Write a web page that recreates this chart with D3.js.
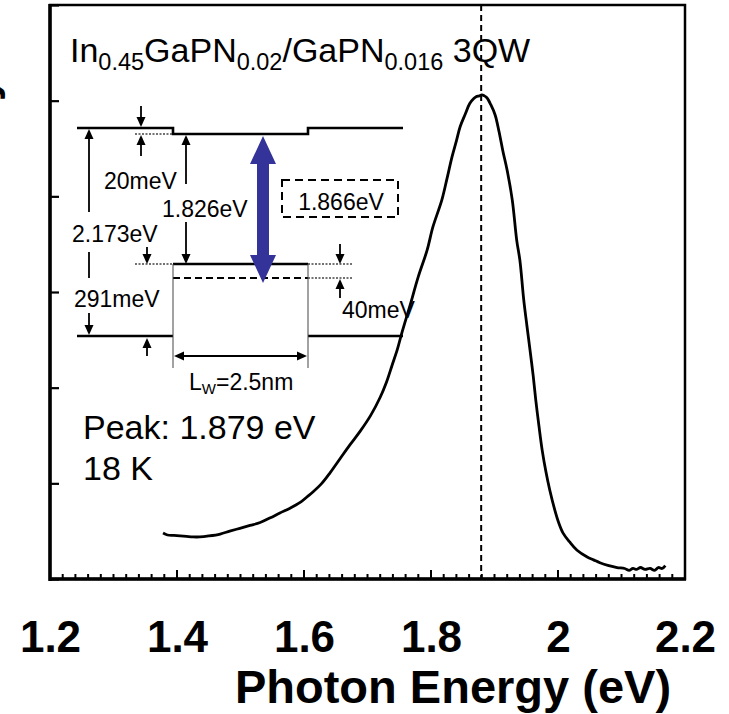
<!DOCTYPE html>
<html>
<head>
<meta charset="utf-8">
<script src="https://cdn.jsdelivr.net/npm/d3@7"></script>
<style>
  html, body { margin: 0; padding: 0; background: #fff; }
  svg { display: block; }
  text { font-family: "Liberation Sans", Arial, sans-serif; fill: #000; }
</style>
</head>
<body>
<svg id="chart" width="729" height="714"></svg>
<script>
// ---- data ----
const energy = [1.378,1.385,1.395,1.405,1.415,1.425,1.436,1.450,1.468,1.483,1.499,1.515,1.531,1.547,1.562,1.578,1.594,1.605,1.614,1.628,1.641,1.657,1.672,1.688,1.705,1.720,1.730,1.739,1.747,1.754,1.767,1.780,1.794,1.803,1.817,1.825,1.833,1.840,1.846,1.854,1.861,1.867,1.871,1.876,1.880,1.884,1.888,1.894,1.901,1.907,1.913,1.920,1.928,1.935,1.940,1.946,1.951,1.956,1.961,1.965,1.970,1.975,1.981,1.987,1.995,2.001,2.008,2.018,2.030,2.046,2.056,2.066,2.080,2.093,2.105,2.112,2.118,2.124,2.130,2.137,2.145,2.152,2.158,2.164,2.169];
const intensity = [0.48,0.46,0.455,0.45,0.445,0.44,0.44,0.45,0.47,0.50,0.53,0.56,0.59,0.64,0.69,0.74,0.80,0.86,0.91,1.00,1.11,1.26,1.40,1.54,1.71,1.90,2.06,2.24,2.40,2.57,2.86,3.16,3.44,3.68,3.96,4.18,4.41,4.58,4.73,4.86,4.97,5.02,5.04,5.05,5.06,5.05,5.03,4.96,4.85,4.68,4.48,4.27,3.96,3.54,3.33,2.92,2.65,2.39,2.12,1.87,1.60,1.35,1.12,0.93,0.72,0.59,0.48,0.39,0.30,0.23,0.20,0.17,0.14,0.12,0.11,0.09,0.11,0.10,0.12,0.10,0.11,0.09,0.12,0.11,0.14];
const xTickValues = [1.2,1.4,1.6,1.8,2.0,2.2];
const xTickLabels = ["1.2","1.4","1.6","1.8","2","2.2"];
const yTickValues = [0,1,2,3,4,5,6];
const peakEnergy = 1.879;

// ---- layout ----
const svg = d3.select("#chart");
const L = 50, T = 5, R = 685, B = 579;
const x = d3.scaleLinear().domain([1.2, 2.2]).range([L, R]);
const y = d3.scaleLinear().domain([0, 6]).range([B, T]);

// partial y-axis label (cropped at the left edge, as in the reference)
svg.append("text")
  .attr("transform", `translate(-4,76) rotate(-90)`)
  .attr("text-anchor", "end")
  .style("font-weight", "bold").style("font-size", "45px")
  .text("PL Intensity");

// frame
svg.append("rect").attr("x", L).attr("y", T).attr("width", R - L).attr("height", B - T)
  .attr("fill", "none").attr("stroke", "#000").attr("stroke-width", 2.5);
svg.append("line").attr("x1", L).attr("x2", L).attr("y1", T - 1).attr("y2", B + 2)
  .attr("stroke", "#000").attr("stroke-width", 3.5);
svg.append("line").attr("x1", L - 1).attr("x2", R + 1).attr("y1", B).attr("y2", B)
  .attr("stroke", "#000").attr("stroke-width", 3.5);

// x ticks (inward)
const minor = d3.range(0, 51).map(i => 1.2 + i * 0.02);
svg.append("g").selectAll("line").data(minor).join("line")
  .attr("x1", d => x(d)).attr("x2", d => x(d))
  .attr("y1", B).attr("y2", (d, i) => (i % 10 === 0) ? B - 9 : B - 5)
  .attr("stroke", "#000").attr("stroke-width", 2);

// x axis labels
const xAxis = d3.axisBottom(x).tickValues(xTickValues).tickSize(0)
  .tickFormat((d, i) => xTickLabels[i]);
const gx = svg.append("g").attr("transform", `translate(0,${B})`).call(xAxis);
gx.select(".domain").remove();
gx.selectAll("text").attr("dy", null).attr("y", 73)
  .style("font-family", "'Liberation Sans', Arial, sans-serif")
  .style("font-weight", "bold").style("font-size", "44px").attr("fill", "#000");

// y ticks (inward, no labels)
const yAxis = d3.axisRight(y).tickValues(yTickValues).tickSize(9).tickFormat("");
const gy = svg.append("g").attr("transform", `translate(${L},0)`).call(yAxis);
gy.select(".domain").remove();
gy.selectAll("line").attr("stroke", "#000").attr("stroke-width", 2.2);

// axis title
svg.append("text").attr("x", 453).attr("y", 703).attr("text-anchor", "middle")
  .style("font-weight", "bold").style("font-size", "47px")
  .text("Photon Energy (eV)");

// peak dashed vertical line
svg.append("line").attr("x1", x(peakEnergy)).attr("x2", x(peakEnergy))
  .attr("y1", T).attr("y2", B).attr("stroke", "#000").attr("stroke-width", 2)
  .attr("stroke-dasharray", "6,4");

// spectrum
const pts = energy.map((e, i) => [e, intensity[i]]);
svg.append("path").datum(pts)
  .attr("fill", "none").attr("stroke", "#000").attr("stroke-width", 2.8)
  .attr("stroke-linejoin", "round")
  .attr("d", d3.line().x(d => x(d[0])).y(d => y(d[1])).curve(d3.curveCatmullRom));

// ---- title ----
const title = svg.append("text").attr("x", 70).attr("y", 62).style("font-size", "34px");
const parts = [["In", 0], ["0.45", 1], ["GaPN", 0], ["0.02", 1], ["/GaPN", 0], ["0.016", 1], [" 3QW", 0]];
let prevSub = 0;
parts.forEach(([t, s]) => {
  const ts = title.append("tspan").text(t);
  if (s) { ts.style("font-size", "23.5px").attr("dy", 8); prevSub = 1; }
  else if (prevSub) { ts.attr("dy", -8); prevSub = 0; }
});

// ---- band diagram inset ----
const g = svg.append("g");
const thick = 2.6;
function line(x1, y1, x2, y2, w, dash, col) {
  const l = g.append("line").attr("x1", x1).attr("y1", y1).attr("x2", x2).attr("y2", y2)
    .attr("stroke", col || "#000").attr("stroke-width", w);
  if (dash) l.attr("stroke-dasharray", dash);
  return l;
}
function head(xt, yt, dir, w, h) { // triangle arrowhead with tip at (xt,yt)
  w = w || 9; h = h || 10;
  let p;
  if (dir === "up") p = [[xt, yt], [xt - w / 2, yt + h], [xt + w / 2, yt + h]];
  if (dir === "down") p = [[xt, yt], [xt - w / 2, yt - h], [xt + w / 2, yt - h]];
  if (dir === "left") p = [[xt, yt], [xt + h, yt - w / 2], [xt + h, yt + w / 2]];
  if (dir === "right") p = [[xt, yt], [xt - h, yt - w / 2], [xt - h, yt + w / 2]];
  g.append("polygon").attr("points", p.map(q => q.join(",")).join(" ")).attr("fill", "#000");
}
function label(t, xx, yy, size, anchor) {
  return g.append("text").attr("x", xx).attr("y", yy).attr("text-anchor", anchor || "start")
    .style("font-size", (size || 23) + "px").text(t);
}

// conduction band
g.append("path").attr("d", "M77,128 H173 V134 H308 V128 H403")
  .attr("fill", "none").attr("stroke", "#000").attr("stroke-width", thick);
// valence band
line(77, 336, 173, 336, thick);
line(308, 336, 403, 336, thick);
line(173, 264, 308, 264, thick);
line(173, 278, 308, 278, 2.2, "7,4");
// well walls (thin)
line(173, 264, 173, 368, 1, null, "#444");
line(308, 264, 308, 368, 1, null, "#444");
// dotted reference lines
line(135, 134, 173, 134, 1.5, "2,1.5", "#444");
line(135, 264, 173, 264, 1.5, "2,1.5", "#444");
line(308, 264, 353, 264, 1.5, "2,1.5", "#444");
line(308, 278, 353, 278, 1.5, "2,1.5", "#444");

// 20meV markers
line(141, 106, 141, 120, 1.8); head(141, 127, "down");
line(141, 142, 141, 156, 1.8); head(141, 135, "up");
label("20meV", 104, 189);

// 2.173eV double arrow (broken by labels)
line(89, 136, 89, 212, 1.8); head(89, 129, "up");
label("2.173eV", 72, 242);
line(89, 252, 89, 278, 1.8);
label("291meV", 74, 307);
line(89, 313, 89, 328, 1.8); head(89, 335, "down");

// 291meV markers
line(147, 247, 147, 257, 1.8); head(147, 264, "down");
line(147, 345, 147, 356, 1.8); head(147, 338, "up");

// 1.826eV
line(186, 142, 186, 184, 1.8); head(186, 135, "up");
label("1.826eV", 162, 217);
line(186, 222, 186, 257, 1.8); head(186, 264, "down");

// 40meV markers
line(340, 244, 340, 257, 1.8); head(340, 264, "down");
line(340, 286, 340, 298, 1.8); head(340, 279, "up");
label("40meV", 342, 318);

// Lw dimension
line(182, 356, 299, 356, 1.8); head(174, 356, "left"); head(307, 356, "right");
const lw = g.append("text").attr("x", 189).attr("y", 390).style("font-size", "23px");
lw.append("tspan").text("L");
lw.append("tspan").text("W").style("font-size", "15px").attr("dy", 4);
lw.append("tspan").text("=2.5nm").attr("dy", -4);

// dashed box 1.866eV
g.append("rect").attr("x", 282).attr("y", 180).attr("width", 116).attr("height", 37)
  .attr("fill", "none").attr("stroke", "#000").attr("stroke-width", 2).attr("stroke-dasharray", "8,5");
label("1.866eV", 341, 210, 23, "middle");

// blue double arrow
const bx = 263, by1 = 136, by2 = 283, hw = 13, hl = 28, sw = 6;
g.append("polygon").attr("fill", "#333399").attr("points", [
  [bx, by1], [bx + hw, by1 + hl], [bx + sw, by1 + hl], [bx + sw, by2 - hl], [bx + hw, by2 - hl],
  [bx, by2], [bx - hw, by2 - hl], [bx - sw, by2 - hl], [bx - sw, by1 + hl], [bx - hw, by1 + hl]
].map(q => q.join(",")).join(" "));

// peak / temperature labels
svg.append("text").attr("x", 83).attr("y", 439).style("font-size", "34px").text("Peak: 1.879 eV");
svg.append("text").attr("x", 83).attr("y", 480).style("font-size", "34px").text("18 K");
</script>
</body>
</html>
